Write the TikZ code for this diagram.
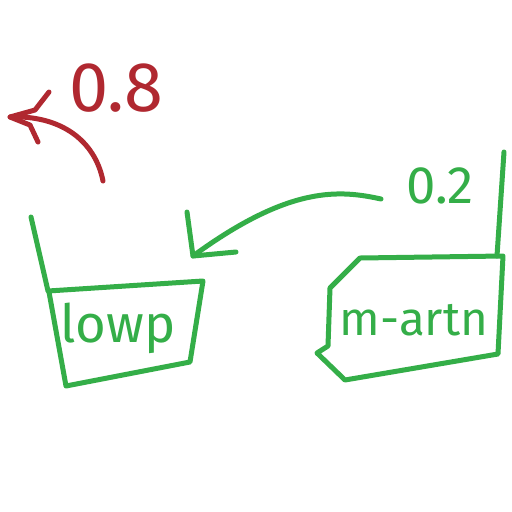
\documentclass[tikz,border=0pt]{standalone}
\usepackage{fontspec}
\setmainfont{Fira Sans}
\definecolor{pgreen}{RGB}{52,174,72}
\definecolor{pred}{RGB}{176,40,48}
\begin{document}
\begin{tikzpicture}[x=0.02cm,y=-0.02cm,
  gline/.style={draw=pgreen,line width=0.1cm,line cap=round,line join=round},
  rline/.style={draw=pred,line width=0.1cm,line cap=round,line join=round},
  glabel/.style={text=pgreen,font=\fontsize{30}{34}\selectfont,inner sep=0pt},
  rlabel/.style={text=pred,font=\fontsize{40}{44}\selectfont,inner sep=0pt}]
\useasboundingbox[fill=white] (0,0) rectangle (512,512);
% left box
\draw[gline] (31,217) -- (48,291) -- (203,281) -- (190,362) -- (66,386) -- (49,292);
\node[glabel] (low) at (118,328) {lowp};
% right box
\draw[gline] (504,152) -- (497,256);
\draw[gline] (330,288) -- (360,258) -- (503,256) -- (498,354) -- (345,380) -- (317,353) -- (328,346) -- cycle;
\node[glabel,font=\fontsize{27}{30}\selectfont] (high) at (414,320) {m-artn};
% green arrow
\coordinate (gs) at (381,199);
\coordinate (gt) at (193,256);
\draw[gline] (gs) .. controls (340,190) and (290,185) .. (gt);
\draw[gline] (187,212) -- (193,256) -- (236,252);
\node[glabel] (p2) at (440,186) {0.2};
% red arrow
\coordinate (rs) at (103,181);
\coordinate (rt) at (10,117);
\draw[rline] (rs) .. controls (95,140) and (60,115) .. (rt);
\draw[rline] (49,92) -- (35,110) -- (10,117) -- (30,125) -- (38,142);
\node[rlabel] (p8) at (116,88) {0.8};
\end{tikzpicture}
\end{document}
